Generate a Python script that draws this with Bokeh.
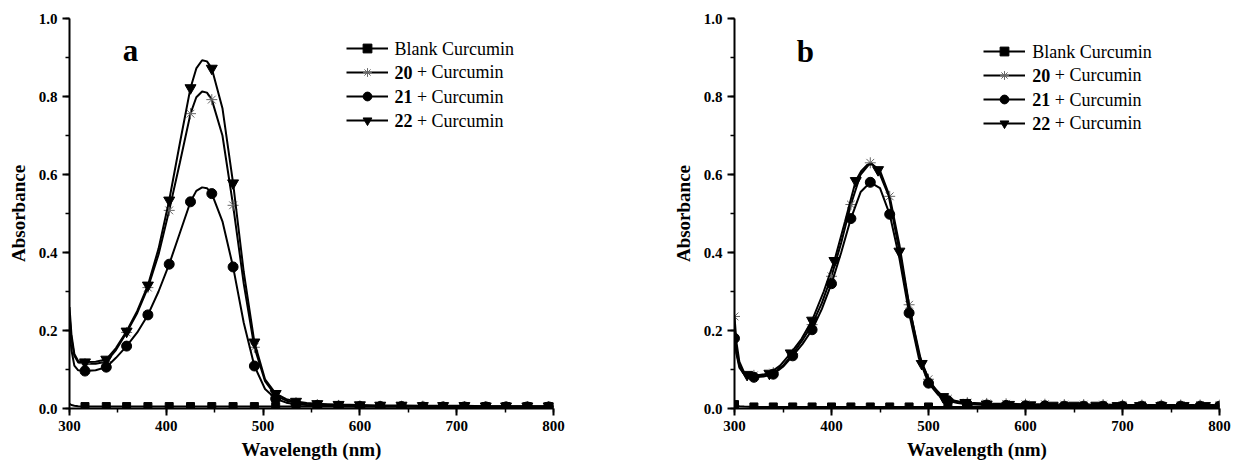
from bokeh.plotting import figure
from bokeh.layouts import row
from bokeh.models import (Range1d, Legend, LegendItem, Label,
                          SingleIntervalTicker, PrintfTickFormatter)
from bokeh.embed import file_html
from bokeh.resources import INLINE

# ---------------- panel a: absorbance spectra ----------------
WL_A = [300, 302, 305, 309, 316, 327, 338, 348, 359, 370, 381, 392, 403, 414,
        425, 431, 437, 442, 447, 458, 469, 480, 491, 502, 513, 524, 534, 545,
        556, 567, 578, 600, 621, 643, 665, 686, 708, 730, 751, 773, 795, 800]
BLANK_A = [0.012, 0.009, 0.007, 0.006, 0.005, 0.005, 0.005, 0.005, 0.005, 0.005,
           0.005, 0.005, 0.005, 0.005, 0.005, 0.005, 0.005, 0.005, 0.005, 0.005,
           0.005, 0.005, 0.005, 0.005, 0.005, 0.005, 0.005, 0.005, 0.005, 0.005,
           0.005, 0.005, 0.005, 0.005, 0.005, 0.005, 0.005, 0.005, 0.005, 0.005,
           0.005, 0.005]
S20_A = [0.24, 0.18, 0.135, 0.118, 0.115, 0.115, 0.12, 0.15, 0.195, 0.245, 0.31,
         0.395, 0.508, 0.63, 0.756, 0.798, 0.813, 0.81, 0.792, 0.7, 0.521, 0.32,
         0.157, 0.07, 0.033, 0.02, 0.015, 0.012, 0.01, 0.009, 0.008, 0.007,
         0.006, 0.006, 0.006, 0.005, 0.005, 0.005, 0.005, 0.005, 0.005, 0.005]
S21_A = [0.2, 0.15, 0.11, 0.098, 0.096, 0.098, 0.106, 0.13, 0.16, 0.195, 0.24,
         0.3, 0.37, 0.45, 0.53, 0.558, 0.567, 0.565, 0.551, 0.48, 0.363, 0.22,
         0.109, 0.05, 0.025, 0.015, 0.011, 0.009, 0.008, 0.007, 0.006, 0.005,
         0.005, 0.005, 0.004, 0.004, 0.004, 0.004, 0.004, 0.004, 0.004, 0.004]
S22_A = [0.26, 0.19, 0.14, 0.122, 0.119, 0.12, 0.126, 0.155, 0.198, 0.25, 0.316,
         0.41, 0.534, 0.68, 0.822, 0.872, 0.893, 0.89, 0.872, 0.77, 0.578, 0.35,
         0.17, 0.075, 0.038, 0.024, 0.018, 0.014, 0.012, 0.011, 0.01, 0.009,
         0.008, 0.008, 0.007, 0.007, 0.007, 0.006, 0.006, 0.006, 0.006, 0.006]
MARK_WL_A = [316, 338, 359, 381, 403, 425, 447, 469, 491, 513, 534, 556, 578,
             600, 621, 643, 665, 686, 708, 730, 751, 773, 795]

# ---------------- panel b: absorbance spectra ----------------
WL_B = [300, 302, 305, 310, 320, 330, 340, 350, 360, 370, 380, 390, 400, 410,
        420, 430, 440, 450, 460, 470, 480, 490, 500, 510, 520, 530, 540, 560,
        580, 600, 620, 640, 660, 680, 700, 720, 740, 760, 780, 800]
BLANK_B = [0.01, 0.008, 0.006, 0.005, 0.004, 0.004, 0.004, 0.004, 0.004, 0.004,
           0.004, 0.004, 0.004, 0.004, 0.004, 0.004, 0.004, 0.004, 0.004, 0.004,
           0.004, 0.004, 0.004, 0.004, 0.004, 0.004, 0.004, 0.004, 0.004, 0.004,
           0.004, 0.004, 0.004, 0.004, 0.004, 0.004, 0.004, 0.004, 0.004, 0.004]
S20_B = [0.236, 0.17, 0.12, 0.092, 0.085, 0.086, 0.092, 0.11, 0.14, 0.175, 0.215,
         0.27, 0.339, 0.425, 0.523, 0.6, 0.63, 0.61, 0.544, 0.42, 0.266, 0.14,
         0.075, 0.04, 0.025, 0.018, 0.015, 0.013, 0.012, 0.011, 0.011, 0.01,
         0.01, 0.01, 0.009, 0.009, 0.009, 0.009, 0.009, 0.009]
S21_B = [0.18, 0.14, 0.105, 0.088, 0.08, 0.082, 0.088, 0.107, 0.135, 0.165, 0.202,
         0.255, 0.32, 0.40, 0.487, 0.555, 0.58, 0.565, 0.498, 0.385, 0.245, 0.13,
         0.065, 0.035, 0.02, 0.014, 0.011, 0.009, 0.008, 0.007, 0.007, 0.006,
         0.006, 0.006, 0.006, 0.006, 0.006, 0.006, 0.006, 0.006]
MARK_WL_B = [300, 320, 340, 360, 380, 400, 420, 440, 460, 480, 500, 520, 540,
             560, 580, 600, 620, 640, 660, 680, 700, 720, 740, 760, 780, 800]
WL_B22 = [300, 302, 305, 309, 313, 324, 336, 347, 358, 369, 380, 392, 403, 414,
          425, 431, 437, 442, 448, 459, 470, 481, 493, 504, 515, 526, 538, 549,
          560, 583, 605, 628, 650, 673, 695, 718, 740, 763, 785, 800]
S22_B = [0.19, 0.145, 0.11, 0.092, 0.087, 0.085, 0.09, 0.11, 0.142, 0.178, 0.226,
         0.3, 0.379, 0.48, 0.584, 0.61, 0.625, 0.626, 0.612, 0.545, 0.403, 0.25,
         0.115, 0.058, 0.03, 0.02, 0.015, 0.012, 0.011, 0.01, 0.009, 0.008,
         0.008, 0.008, 0.007, 0.007, 0.007, 0.007, 0.007, 0.007]
MARK_WL_B22 = [313, 336, 358, 380, 403, 425, 448, 470, 493, 515, 538, 560, 583,
               605, 628, 650, 673, 695, 718, 740, 763, 785]

# legend entries: (bold part, regular part)
LEGEND_TEXT = [("", "Blank Curcumin"), ("20", "+ Curcumin"),
               ("21", "+ Curcumin"), ("22", "+ Curcumin")]

SERIF = "Liberation Serif"

MARKER_STYLE = [
    dict(marker="square", size=8, fill_color="black", line_color="black", line_width=1),
    dict(marker="asterisk", size=11, fill_color=None, line_color="#666666", line_width=1),
    dict(marker="circle", size=10, fill_color="black", line_color="black", line_width=1),
    dict(marker="inverted_triangle", size=11, fill_color="black", line_color="black", line_width=1),
]


def at_marks(wl, vals, marks):
    lookup = dict(zip(wl, vals))
    return marks, [lookup[m] for m in marks]


def make_panel(tag, width, left, right, series, legend_loc, text_x, text_ys,
               tag_x, tag_y):
    p = figure(width=width, height=463, x_range=Range1d(300, 800),
               y_range=Range1d(0, 1.0), output_backend="svg",
               toolbar_location=None, min_border_left=left,
               min_border_right=right, min_border_top=18, min_border_bottom=55,
               background_fill_color="white", border_fill_color="white")
    p.grid.visible = False
    p.outline_line_color = None

    items = []
    for (wl, vals, marks), style in zip(series, MARKER_STYLE):
        r_line = p.line(wl, vals, line_color="black", line_width=2)
        mx, my = at_marks(wl, vals, marks)
        r_mark = p.scatter(mx, my, **style)
        items.append(LegendItem(label=" ", renderers=[r_line, r_mark]))

    legend = Legend(items=items, location=legend_loc, orientation="vertical",
                    glyph_width=42, glyph_height=22, label_height=22,
                    label_width=1, label_standoff=0, spacing=2, padding=0,
                    margin=0, border_line_color=None, background_fill_alpha=0,
                    label_text_font_size="2px")
    p.add_layout(legend)

    for (bold, regular), ty in zip(LEGEND_TEXT, text_ys):
        offset = 0
        if bold:
            p.add_layout(Label(x=text_x, y=ty, text=bold, text_font=SERIF,
                               text_font_style="bold", text_font_size="18px",
                               text_baseline="middle", text_color="black"))
            offset = 22.5
        p.add_layout(Label(x=text_x, y=ty, x_offset=offset, text=regular,
                           text_font=SERIF, text_font_size="18px",
                           text_baseline="middle", text_color="black"))

    p.add_layout(Label(x=tag_x, y=tag_y, text=tag, text_font=SERIF,
                       text_font_style="bold", text_font_size="31px",
                       text_align="center", text_baseline="alphabetic",
                       text_color="black"))

    p.xaxis.ticker = SingleIntervalTicker(interval=100, num_minor_ticks=2)
    p.yaxis.ticker = SingleIntervalTicker(interval=0.2, num_minor_ticks=2)
    p.yaxis.formatter = PrintfTickFormatter(format="%.1f")
    p.xaxis.axis_label = "Wavelength (nm)"
    p.yaxis.axis_label = "Absorbance"
    p.xaxis.axis_label_standoff = 5
    p.yaxis.axis_label_standoff = 7
    for ax in (p.xaxis[0], p.yaxis[0]):
        ax.axis_line_width = 2
        ax.axis_line_color = "black"
        ax.major_tick_line_width = 2
        ax.major_tick_line_color = "black"
        ax.minor_tick_line_width = 1.5
        ax.minor_tick_line_color = "black"
        ax.major_tick_out = 7
        ax.major_tick_in = 0
        ax.minor_tick_out = 4
        ax.minor_tick_in = 0
        ax.major_label_standoff = 5
        ax.major_label_text_font = SERIF
        ax.major_label_text_font_style = "bold"
        ax.major_label_text_font_size = "15px"
        ax.major_label_text_color = "black"
        ax.axis_label_text_font = SERIF
        ax.axis_label_text_font_style = "bold"
        ax.axis_label_text_font_size = "19px"
        ax.axis_label_text_color = "black"
    return p


series_a = [(WL_A, BLANK_A, MARK_WL_A), (WL_A, S20_A, MARK_WL_A),
            (WL_A, S21_A, MARK_WL_A), (WL_A, S22_A, MARK_WL_A)]
series_b = [(WL_B, BLANK_B, MARK_WL_B), (WL_B, S20_B, MARK_WL_B),
            (WL_B, S21_B, MARK_WL_B), (WL_B22, S22_B, MARK_WL_B22)]

pa = make_panel("a", 620, 69, 67, series_a, (277, 277), 635.7,
                [0.923, 0.862, 0.800, 0.738], 363, 0.918)
pb = make_panel("b", 618, 114, 19, series_b, (249, 274), 607,
                [0.915, 0.854, 0.792, 0.731], 373, 0.915)

layout = row(pa, pb)
open("out.html", "w").write(file_html(layout, INLINE))
